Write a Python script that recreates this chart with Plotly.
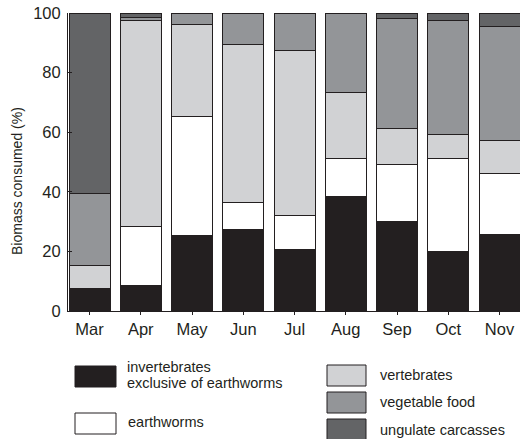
import plotly.graph_objects as go

months = ["Mar", "Apr", "May", "Jun", "Jul", "Aug", "Sep", "Oct", "Nov"]
invertebrates = [7.4, 8.4, 25.4, 27.2, 20.5, 38.3, 30.1, 19.9, 25.7]
earthworms = [0.0, 19.8, 39.8, 9.3, 11.7, 12.9, 19.2, 31.3, 20.6]
vertebrates = [7.8, 69.2, 31.1, 53.0, 55.1, 22.1, 12.0, 8.0, 11.0]
vegetable = [24.1, 1.0, 3.7, 10.5, 12.7, 26.7, 37.0, 38.2, 38.1]
ungulate = [60.7, 1.6, 0.0, 0.0, 0.0, 0.0, 1.7, 2.6, 4.6]

series_names = ["invertebrates<br>exclusive of earthworms", "earthworms",
                "vertebrates", "vegetable food", "ungulate carcasses"]
series_values = [invertebrates, earthworms, vertebrates, vegetable, ungulate]
y_title = "Biomass consumed (%)"
colors = ["#231f20", "#ffffff", "#d1d2d4", "#939598", "#636466"]
outline = "#231f20"
FONT = "Liberation Sans, Arial, sans-serif"

fig = go.Figure()
for name, vals, col in zip(series_names, series_values, colors):
    fig.add_trace(go.Bar(x=months, y=vals, name=name.replace("<br>", " "),
                         marker_color=col, marker_line_color=outline,
                         marker_line_width=1, showlegend=False))

W, H = 520, 439
ml, mr, mt, mb = 68, 0, 13, 128
pw, ph = W - ml - mr, H - mt - mb

def px(x):
    return (x - ml) / pw

def py(y):
    return (H - mb - y) / ph

# legend layout in pixels: box x0, y0, x1, y1, text x, text y of first line
boxes = [
    (75, 366, 116, 387, 125, 367),
    (75, 413, 116, 434, 126, 422),
    (327, 365, 366, 386, 378, 375),
    (327, 392, 366, 413, 378, 402),
    (327, 419, 366, 440, 378, 430),
]
shapes = []
annotations = []
for (x0, y0, x1, y1, tx, ty), col, name in zip(boxes, colors, series_names):
    shapes.append(dict(type="rect", xref="paper", yref="paper",
                       x0=px(x0), x1=px(x1), y0=py(y1), y1=py(y0),
                       fillcolor=col, line=dict(color=outline, width=1)))
    for i, line in enumerate(name.split("<br>")):
        annotations.append(dict(xref="paper", yref="paper", x=px(tx),
                                y=py(ty + 16 * i), text=line, showarrow=False,
                                xanchor="left", yanchor="middle", align="left",
                                font=dict(size=14.5, color="#231f20", family=FONT)))

annotations.append(dict(xref="paper", yref="paper", x=px(17), y=py(181),
                        text=y_title, textangle=-90, showarrow=False,
                        xanchor="center", yanchor="middle",
                        font=dict(size=14, color="#231f20", family=FONT)))

fig.update_layout(
    barmode="stack",
    bargap=0.2,
    width=W, height=H,
    margin=dict(l=ml, r=mr, t=mt, b=mb),
    plot_bgcolor="white", paper_bgcolor="white",
    font=dict(family=FONT, size=14, color="#231f20"),
    shapes=shapes,
    annotations=annotations,
    xaxis=dict(range=[-0.42, 8.4], showline=True, linecolor="#231f20", linewidth=1,
               ticks="outside", ticklen=3, tickcolor="#231f20", showgrid=False,
               tickfont=dict(size=16.5), fixedrange=True),
    yaxis=dict(range=[0, 100], tickvals=[0, 20, 40, 60, 80, 100], showline=True,
               linecolor="#231f20", linewidth=1, ticks="inside", ticklen=4,
               tickcolor="#231f20", showgrid=False, zeroline=False,
               tickfont=dict(size=16.5), ticklabelstandoff=3, fixedrange=True),
)

fig.write_html("out.html", config={"displayModeBar": False},
               post_script="document.body.style.margin='0';")
